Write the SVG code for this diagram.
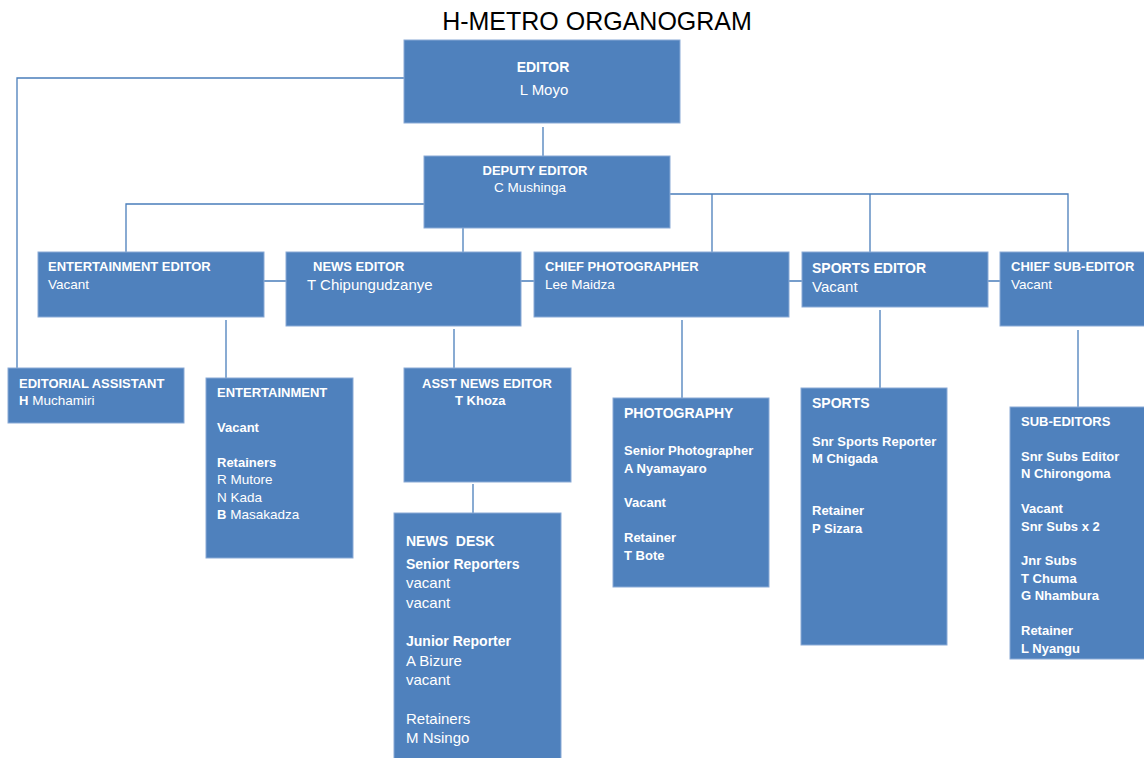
<svg xmlns="http://www.w3.org/2000/svg" width="1144" height="758" viewBox="0 0 1144 758">
<style>
.box{fill:#4F81BD;stroke:#8AAAD6;stroke-width:1}
text{font-family:"Liberation Sans",Arial,sans-serif;fill:#fff;font-size:13.5px;white-space:pre}
.b{font-weight:bold;font-size:13px}
.l{font-size:15px}
.bl{font-weight:bold;font-size:14px}
.title{fill:#000;font-size:25px}
.c{stroke:#4A7EBB;stroke-width:1.3;fill:none}
</style>
<rect width="1144" height="758" fill="#fff"/>
<text class="title" x="597" y="30" text-anchor="middle">H-METRO ORGANOGRAM</text>
<g id="connectors">
<path class="c" d="M543 127V156"/>
<path class="c" d="M404 78H17V368"/>
<path class="c" d="M424 204H126V252"/>
<path class="c" d="M463 228V252"/>
<path class="c" d="M670 194H1068V252M712 194V252M870 194V252"/>
<path class="c" d="M264 281H286M521 281H534M789 281H802M988 281H1000"/>
<path class="c" d="M226 320V378"/>
<path class="c" d="M454 329V368"/>
<path class="c" d="M682 320V398"/>
<path class="c" d="M880 310V388"/>
<path class="c" d="M1078 330V407"/>
<path class="c" d="M473 484V513"/>
</g>
<g id="editor">
<rect class="box" x="404" y="40" width="276" height="83"/>
<text class="bl" x="543" y="72" text-anchor="middle">EDITOR</text>
<text class="l" x="544" y="95" text-anchor="middle">L Moyo</text>
</g>
<g id="deputy-editor">
<rect class="box" x="424" y="156" width="246" height="72"/>
<text class="b" x="535" y="175" text-anchor="middle">DEPUTY EDITOR</text>
<text x="530" y="192" text-anchor="middle">C Mushinga</text>
</g>
<g id="entertainment-editor">
<rect class="box" x="38" y="252" width="226" height="65"/>
<text class="b" x="48" y="271">ENTERTAINMENT EDITOR</text>
<text x="48" y="289">Vacant</text>
</g>
<g id="news-editor">
<rect class="box" x="286" y="252" width="235" height="74"/>
<text class="b" x="313" y="271">NEWS EDITOR</text>
<text class="l" x="307" y="290">T Chipungudzanye</text>
</g>
<g id="chief-photographer">
<rect class="box" x="534" y="252" width="255" height="65"/>
<text class="b" x="545" y="271">CHIEF PHOTOGRAPHER</text>
<text x="545" y="289">Lee Maidza</text>
</g>
<g id="sports-editor">
<rect class="box" x="802" y="252" width="186" height="55"/>
<text class="bl" x="812" y="273">SPORTS EDITOR</text>
<text class="l" x="812" y="292">Vacant</text>
</g>
<g id="chief-sub-editor">
<rect class="box" x="1000" y="252" width="150" height="74"/>
<text class="b" x="1011" y="271">CHIEF SUB-EDITOR</text>
<text x="1011" y="289">Vacant</text>
</g>
<g id="editorial-assistant">
<rect class="box" x="8" y="368" width="176" height="55"/>
<text class="b" x="19" y="388">EDITORIAL ASSISTANT</text>
<text x="19" y="405"><tspan class="b">H</tspan> Muchamiri</text>
</g>
<g id="entertainment">
<rect class="box" x="206" y="378" width="147" height="180"/>
<text class="b" x="217" y="397">ENTERTAINMENT</text>
<text class="b" x="217" y="432">Vacant</text>
<text class="b" x="217" y="467">Retainers</text>
<text x="217" y="484">R Mutore</text>
<text x="217" y="502">N Kada</text>
<text x="217" y="519"><tspan class="b">B</tspan> Masakadza</text>
</g>
<g id="asst-news-editor">
<rect class="box" x="404" y="368" width="167" height="114"/>
<text class="b" x="422" y="388">ASST NEWS EDITOR</text>
<text class="b" x="455" y="405">T Khoza</text>
</g>
<g id="news-desk">
<rect class="box" x="394" y="513" width="167" height="250"/>
<text class="bl" x="406" y="546">NEWS  DESK</text>
<text class="bl" x="406" y="569">Senior Reporters</text>
<text class="l" x="406" y="588">vacant</text>
<text class="l" x="406" y="608">vacant</text>
<text class="bl" x="406" y="646">Junior Reporter</text>
<text class="l" x="406" y="666">A Bizure</text>
<text class="l" x="406" y="685">vacant</text>
<text class="l" x="406" y="724">Retainers</text>
<text class="l" x="406" y="743">M Nsingo</text>
</g>
<g id="photography">
<rect class="box" x="613" y="398" width="156" height="189"/>
<text class="bl" x="624" y="418">PHOTOGRAPHY</text>
<text class="b" x="624" y="455">Senior Photographer</text>
<text class="b" x="624" y="473">A Nyamayaro</text>
<text class="b" x="624" y="507">Vacant</text>
<text class="b" x="624" y="542">Retainer</text>
<text class="b" x="624" y="560">T Bote</text>
</g>
<g id="sports">
<rect class="box" x="801" y="388" width="146" height="257"/>
<text class="bl" x="812" y="408">SPORTS</text>
<text class="b" x="812" y="446">Snr Sports Reporter</text>
<text class="b" x="812" y="463">M Chigada</text>
<text class="b" x="812" y="515">Retainer</text>
<text class="b" x="812" y="533">P Sizara</text>
</g>
<g id="sub-editors">
<rect class="box" x="1010" y="407" width="140" height="252"/>
<text class="b" x="1021" y="426">SUB-EDITORS</text>
<text class="b" x="1021" y="461">Snr Subs Editor</text>
<text class="b" x="1021" y="478">N Chirongoma</text>
<text class="b" x="1021" y="513">Vacant</text>
<text class="b" x="1021" y="531">Snr Subs x 2</text>
<text class="b" x="1021" y="565">Jnr Subs</text>
<text class="b" x="1021" y="583">T Chuma</text>
<text class="b" x="1021" y="600">G Nhambura</text>
<text class="b" x="1021" y="635">Retainer</text>
<text class="b" x="1021" y="653">L Nyangu</text>
</g>
</svg>
